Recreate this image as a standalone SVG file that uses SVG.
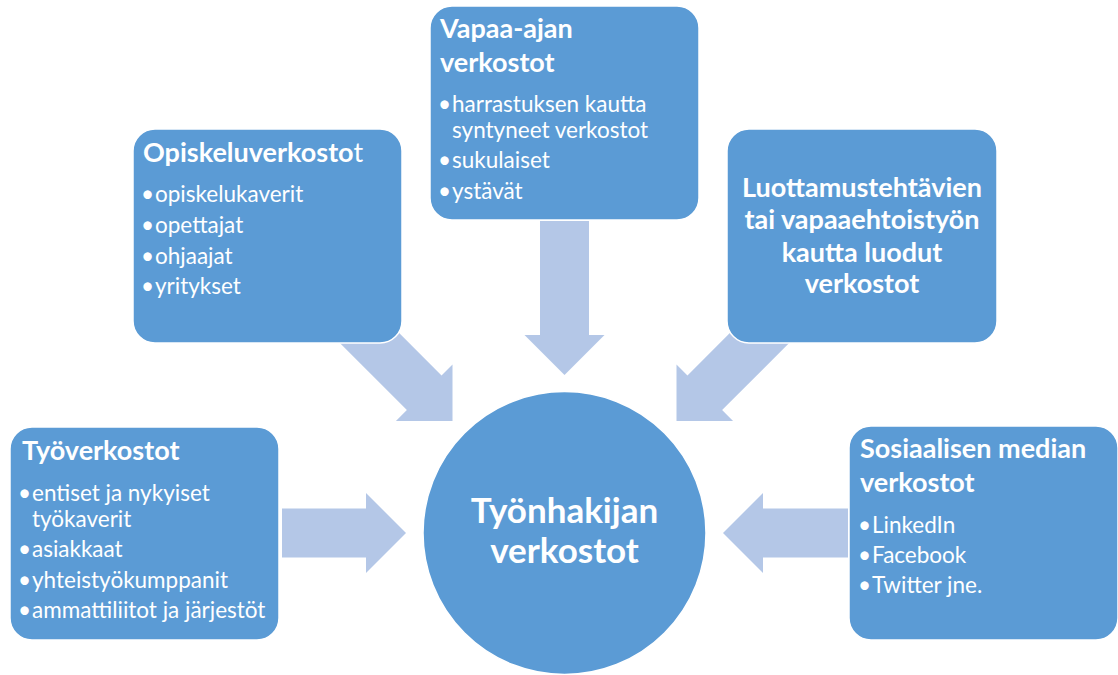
<svg xmlns="http://www.w3.org/2000/svg" width="1118" height="675" viewBox="0 0 1118 675">
  <defs>
    <style>
      .box { fill: #5B9BD5; stroke: #FFFFFF; stroke-width: 1.5; }
      .arrow { fill: #B4C7E7; }
      .title { font-family: Lato, "Open Sans", sans-serif; font-weight: bold; font-size: 27px; fill: #FFFFFF; }
      .item { font-family: Lato, "Open Sans", sans-serif; font-size: 22.5px; fill: #FFFFFF; }
      .bul { font-family: Lato, "Open Sans", sans-serif; font-size: 22.5px; fill: #FFFFFF; text-anchor: end; }
      .center { font-family: Lato, "Open Sans", sans-serif; font-weight: bold; font-size: 35px; fill: #FFFFFF; text-anchor: middle; }
    </style>
    <polygon id="arr" points="-150,-24.5 -40,-24.5 -40,-40 0,0 -40,40 -40,24.5 -150,24.5"/>
  </defs>
  <rect width="1118" height="675" fill="#FFFFFF"/>

  <g id="connectors" class="arrow">
    <polygon points="282,508.5 366,508.5 366,493 406,533 366,573 366,557.5 282,557.5"/>
    <polygon points="848,508.5 763,508.5 763,493 723,533 763,573 763,557.5 848,557.5"/>
    <polygon points="540,221 540,335 524.5,335 564.5,375 604.5,335 589,335 589,221"/>
    <use href="#arr" transform="translate(452.5,421) rotate(45)"/>
    <use href="#arr" transform="translate(676.5,421) rotate(135)"/>
  </g>

  <g id="node-opiskelu">
    <rect class="box" x="133" y="129" width="269" height="214" rx="22"/>
    <text class="title" x="143" y="162">Opiskeluverkosto<tspan font-weight="normal">t</tspan></text>
    <text class="bul" x="154" y="202">•</text><text class="item" x="155" y="202">opiskelukaverit</text>
    <text class="bul" x="154" y="233">•</text><text class="item" x="155" y="233">opettajat</text>
    <text class="bul" x="154" y="264">•</text><text class="item" x="155" y="264">ohjaajat</text>
    <text class="bul" x="154" y="294">•</text><text class="item" x="155" y="294">yritykset</text>
  </g>

  <g id="node-vapaa">
    <rect class="box" x="430" y="6" width="269" height="214" rx="22"/>
    <text class="title" x="440" y="38">Vapaa-ajan</text>
    <text class="title" x="440" y="72">verkostot</text>
    <text class="bul" x="451" y="112">•</text><text class="item" x="452" y="112">harrastuksen kautta</text>
    <text class="item" x="452" y="138">syntyneet verkostot</text>
    <text class="bul" x="451" y="168">•</text><text class="item" x="452" y="168">sukulaiset</text>
    <text class="bul" x="451" y="199">•</text><text class="item" x="452" y="199">ystävät</text>
  </g>

  <g id="node-luottamus">
    <rect class="box" x="727" y="129" width="270" height="214" rx="22"/>
    <text class="title" x="862" y="197" text-anchor="middle">Luottamustehtävien</text>
    <text class="title" x="862" y="229" text-anchor="middle">tai vapaaehtoistyön</text>
    <text class="title" x="862" y="262" text-anchor="middle">kautta luodut</text>
    <text class="title" x="862" y="293" text-anchor="middle">verkostot</text>
  </g>

  <g id="node-tyo">
    <rect class="box" x="10" y="427" width="269" height="213" rx="22"/>
    <text class="title" x="22" y="460">Työverkostot</text>
    <text class="bul" x="31" y="501">•</text><text class="item" x="32" y="501">entiset ja nykyiset</text>
    <text class="item" x="32" y="527">työkaverit</text>
    <text class="bul" x="31" y="557">•</text><text class="item" x="32" y="557">asiakkaat</text>
    <text class="bul" x="31" y="588">•</text><text class="item" x="32" y="588">yhteistyökumppanit</text>
    <text class="bul" x="31" y="618">•</text><text class="item" x="32" y="618">ammattiliitot ja järjestöt</text>
  </g>

  <g id="node-some">
    <rect class="box" x="849" y="426" width="269" height="214" rx="22"/>
    <text class="title" x="860" y="458">Sosiaalisen median</text>
    <text class="title" x="860" y="492">verkostot</text>
    <text class="bul" x="871" y="533">•</text><text class="item" x="872" y="533">LinkedIn</text>
    <text class="bul" x="871" y="563">•</text><text class="item" x="872" y="563">Facebook</text>
    <text class="bul" x="871" y="593">•</text><text class="item" x="872" y="593">Twitter jne.</text>
  </g>

  <g id="node-center">
    <circle class="box" cx="564.5" cy="533" r="141.5"/>
    <text class="center" x="564.5" y="523">Työnhakijan</text>
    <text class="center" x="564.5" y="563">verkostot</text>
  </g>
</svg>
